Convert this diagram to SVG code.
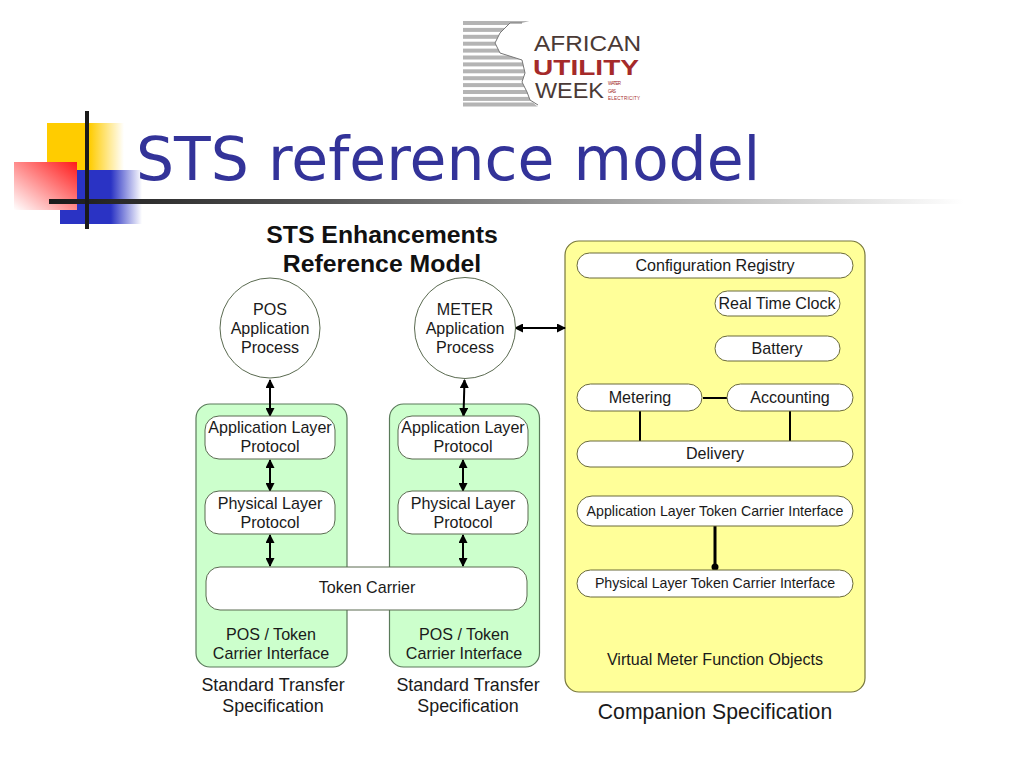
<svg xmlns="http://www.w3.org/2000/svg" width="1024" height="768" viewBox="0 0 1024 768">
<style>
text{font-family:"Liberation Sans",Arial,sans-serif;fill:#1a1a1a;text-anchor:middle}
.t{font-size:16.1px}
.s{font-size:14.2px}
.h{font-size:24.8px;font-weight:bold;fill:#111}
.cap{font-size:17.9px}
.n{fill:#fff;stroke:#5a6a50;stroke-width:1}
.y{fill:#fff;stroke:#6a6a3a;stroke-width:1}
.g{fill:#ccffcc;stroke:#5a7a5a;stroke-width:1.2}
.l{stroke:#000;stroke-width:2;fill:none}
.a{stroke:#000;stroke-width:2;fill:none;marker-start:url(#ah);marker-end:url(#ah)}
.st{fill:#b4b4b4}
.lg{font-size:22px;fill:#4a3a36;text-anchor:start}
.lb{font-size:22.500px;font-weight:bold;fill:#a52a2a;text-anchor:start}
.ls{font-size:4.500px;fill:#a52a2a;text-anchor:start}
</style>
<defs>
<marker id="ah" markerUnits="userSpaceOnUse" markerWidth="9" markerHeight="9" refX="8" refY="4.5" orient="auto-start-reverse"><path d="M0 0L9 4.500L0 9Z" fill="#000"/></marker>
<linearGradient id="gy" x1="0" x2="1" y1="0" y2="0"><stop offset="0.55" stop-color="#ffcc00"/><stop offset="1" stop-color="#ffcc00" stop-opacity="0"/></linearGradient>
<linearGradient id="gb" x1="0" x2="1" y1="0" y2="0"><stop offset="0.62" stop-color="#2a33c4"/><stop offset="1" stop-color="#2a33c4" stop-opacity="0"/></linearGradient>
<linearGradient id="gr" x1="1" x2="0" y1="0" y2="1"><stop offset="0" stop-color="#ff1a1a"/><stop offset="1" stop-color="#fff"/></linearGradient>
<linearGradient id="gl" x1="0" x2="1" y1="0" y2="0"><stop offset="0" stop-color="#1a1a1a"/><stop offset="0.3" stop-color="#555"/><stop offset="1" stop-color="#555" stop-opacity="0"/></linearGradient>
<clipPath id="af"><path d="M463 20H533L522 23L510 23L500 33L495 43L500 53L522 60L525 73L522 82L527 92L530 100L538 107H463Z"/></clipPath>
</defs>

<g id="logo">
<g clip-path="url(#af)">
<rect class="st" x="463" y="21" width="80" height="4"/><rect class="st" x="463" y="27.900" width="80" height="4"/><rect class="st" x="463" y="34.800" width="80" height="4"/><rect class="st" x="463" y="41.700" width="80" height="4"/><rect class="st" x="463" y="48.600" width="80" height="4"/><rect class="st" x="463" y="55.500" width="80" height="4"/><rect class="st" x="463" y="62.400" width="80" height="4"/><rect class="st" x="463" y="69.300" width="80" height="4"/><rect class="st" x="463" y="76.200" width="80" height="4"/><rect class="st" x="463" y="83.100" width="80" height="4"/><rect class="st" x="463" y="90" width="80" height="4"/><rect class="st" x="463" y="96.900" width="80" height="4"/><rect class="st" x="463" y="102.500" width="80" height="4"/>
</g>
<path d="M522 23L510 23L500 33L495 43L500 53L522 60L525 73L522 82L527 92L530 100L538 105" fill="none" stroke="#777" stroke-width="1"/>
<text class="lg" x="534" y="51" textLength="107" lengthAdjust="spacingAndGlyphs">AFRICAN</text>
<text class="lb" x="533" y="75" textLength="106" lengthAdjust="spacingAndGlyphs">UTILITY</text>
<text class="lg" x="535" y="98" textLength="69" lengthAdjust="spacingAndGlyphs">WEEK</text>
<text class="ls" x="608" y="85" textLength="13">WATER</text>
<text class="ls" x="608" y="93" textLength="8">GAS</text>
<text class="ls" x="608" y="100" textLength="32">ELECTRICITY</text>
</g>

<g id="bullet-decor">
<rect x="47" y="123" width="77" height="47" fill="url(#gy)"/>
<rect x="60" y="170" width="82" height="54" fill="url(#gb)"/>
<rect x="14" y="162" width="63" height="48" fill="url(#gr)"/>
<rect x="49" y="199" width="915" height="5" fill="url(#gl)"/>
<rect x="85" y="111" width="4" height="118" fill="#1a1a1a"/>
</g>
<text id="title" x="136" y="180" style="font-family:'DejaVu Sans',sans-serif;font-size:60px;fill:#333399;text-anchor:start">STS reference model</text>

<g id="heading">
<text class="h" x="382" y="243">STS Enhancements</text>
<text class="h" x="382" y="272">Reference Model</text>
</g>

<g id="pos-panel"><rect class="g" x="196" y="404" width="151" height="263" rx="14"/><text class="t" x="271" y="639.500">POS / Token</text><text class="t" x="271" y="658.500">Carrier Interface</text></g>
<g id="meter-panel"><rect class="g" x="389.500" y="404" width="150" height="263" rx="14"/><text class="t" x="464" y="639.500">POS / Token</text><text class="t" x="464" y="658.500">Carrier Interface</text></g>
<g id="companion-panel"><rect x="565" y="241" width="300" height="451" rx="14" fill="#ffff99" stroke="#77773c" stroke-width="1.200"/><text class="t" x="715" y="664.500">Virtual Meter Function Objects</text></g>

<g id="connectors">
<path class="a" d="M270 380V416"/>
<path class="a" d="M464.500 380L463.500 416"/>
<path class="a" d="M270 460V491"/>
<path class="a" d="M463 460V491"/>
<path class="a" d="M270 535V566"/>
<path class="a" d="M463 535V566"/>
<path class="a" d="M515 328H565"/>
<path class="l" d="M703 398H728"/>
<path class="l" d="M640 411V442"/>
<path class="l" d="M790 411V442"/>
<path d="M715 526V566" stroke="#000" stroke-width="3"/>
<circle cx="715" cy="567" r="3.500" fill="#000"/>
</g>

<g id="pos-process"><circle class="n" cx="270" cy="328" r="50"/><text class="t" x="270" y="314.500">POS</text><text class="t" x="270" y="333.500">Application</text><text class="t" x="270" y="352.500">Process</text></g>
<g id="meter-process"><circle class="n" cx="465" cy="328" r="50.500"/><text class="t" x="465" y="314.500">METER</text><text class="t" x="465" y="333.500">Application</text><text class="t" x="465" y="352.500">Process</text></g>

<g id="pos-app"><rect class="n" x="205" y="416" width="130" height="43" rx="14"/><text class="t" x="270" y="432.500">Application Layer</text><text class="t" x="270" y="451.500">Protocol</text></g>
<g id="pos-phy"><rect class="n" x="205" y="491" width="130" height="43" rx="14"/><text class="t" x="270" y="508.500">Physical Layer</text><text class="t" x="270" y="527.500">Protocol</text></g>
<g id="meter-app"><rect class="n" x="398" y="416" width="130" height="43" rx="14"/><text class="t" x="463" y="432.500">Application Layer</text><text class="t" x="463" y="451.500">Protocol</text></g>
<g id="meter-phy"><rect class="n" x="398" y="491" width="130" height="43" rx="14"/><text class="t" x="463" y="508.500">Physical Layer</text><text class="t" x="463" y="527.500">Protocol</text></g>
<g id="token-carrier"><rect class="n" x="206" y="567" width="321" height="43" rx="14"/><text class="t" x="367" y="592.500">Token Carrier</text></g>

<g id="config"><rect class="y" x="577" y="253" width="276" height="25" rx="12.500"/><text class="t" x="715" y="271">Configuration Registry</text></g>
<g id="clock"><rect class="y" x="715" y="291" width="125" height="25" rx="12.500"/><text class="t" x="777" y="308.500">Real Time Clock</text></g>
<g id="battery"><rect class="y" x="715" y="336" width="125" height="25" rx="12.500"/><text class="t" x="777" y="353.500">Battery</text></g>
<g id="metering"><rect class="y" x="577" y="384" width="125" height="27" rx="13.500"/><text class="t" x="640" y="402.500">Metering</text></g>
<g id="accounting"><rect class="y" x="727" y="384" width="126" height="27" rx="13.500"/><text class="t" x="790" y="402.500">Accounting</text></g>
<g id="delivery"><rect class="y" x="577" y="441" width="276" height="26" rx="13"/><text class="t" x="715" y="459">Delivery</text></g>
<g id="app-iface"><rect class="y" x="577" y="496" width="276" height="30" rx="15"/><text class="s" x="715" y="516">Application Layer Token Carrier Interface</text></g>
<g id="phy-iface"><rect class="y" x="577" y="570" width="276" height="27" rx="13.500"/><text class="s" x="715" y="588">Physical Layer Token Carrier Interface</text></g>

<g id="captions">
<text class="cap" x="273" y="690.500">Standard Transfer</text><text class="cap" x="273" y="711.500">Specification</text>
<text class="cap" x="468" y="690.500">Standard Transfer</text><text class="cap" x="468" y="711.500">Specification</text>
<text x="715" y="719" style="font-size:21.200px">Companion Specification</text>
</g>
</svg>
